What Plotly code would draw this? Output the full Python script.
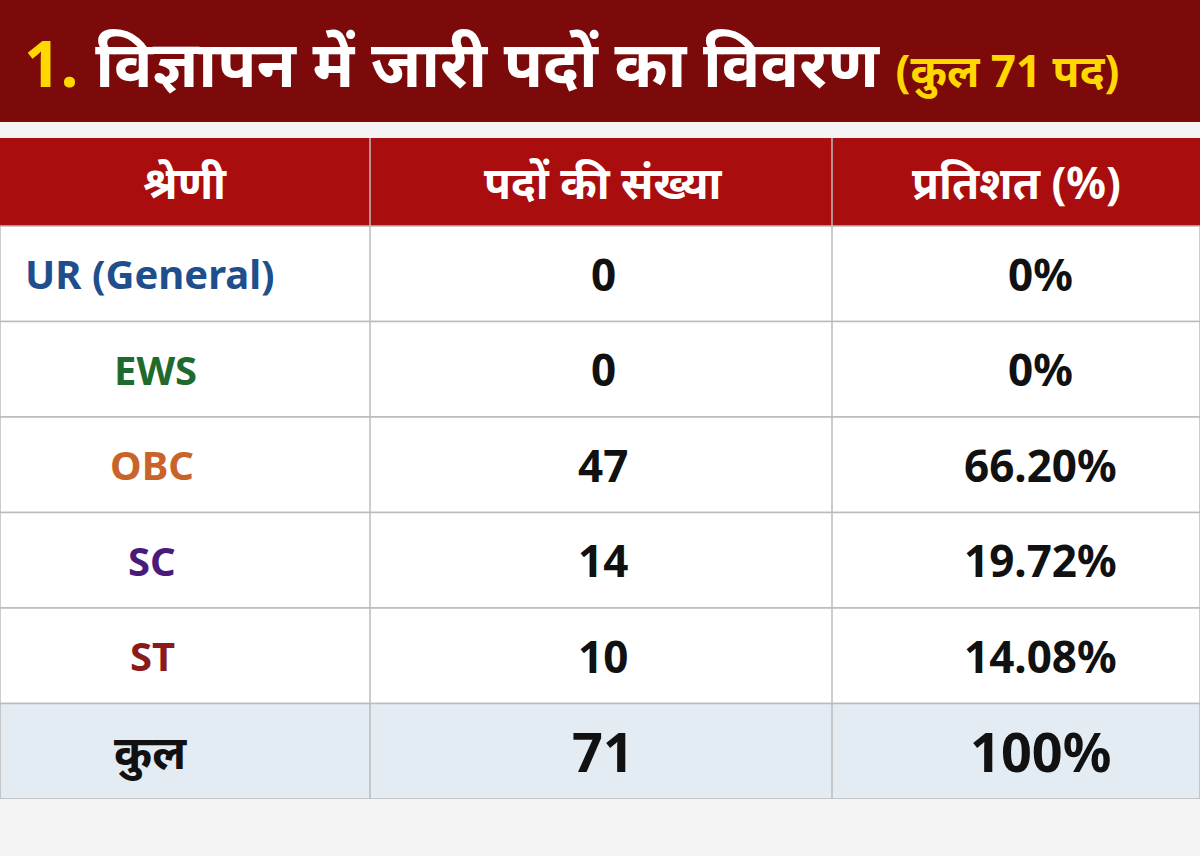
import plotly.graph_objects as go

categories = ["UR (General)", "EWS", "OBC", "SC", "ST"]
cat_colors = ["#1f4e8c", "#1f6b2e", "#c8642a", "#4a1a7a", "#8b1a1a"]
posts = [0, 0, 47, 14, 10]
percent = ["0%", "0%", "66.20%", "19.72%", "14.08%"]
total_label, total_posts, total_pct = "कुल", 71, "100%"
headers = ["श्रेणी", "पदों की संख्या", "प्रतिशत (%)"]

W, H = 1200, 856
FONT = "Noto Sans, Noto Sans Devanagari, Lato, sans-serif"
colx = [0, 370, 832, 1200]
centers = [185, 603, 1016]
cat_center = [150, 155, 152, 152, 152]
row_top = 226
row_h = 95.5

fig = go.Figure()
fig.add_trace(go.Scatter(x=[0, W], y=[0, H], mode="markers", marker=dict(opacity=0), hoverinfo="skip"))
shapes = []
shapes.append(dict(type="rect", x0=0, x1=W, y0=0, y1=122, fillcolor="#7d0a0a", line_width=0, layer="below"))
shapes.append(dict(type="rect", x0=0, x1=W, y0=122, y1=138, fillcolor="#f4f4f4", line_width=0, layer="below"))
shapes.append(dict(type="rect", x0=0, x1=W, y0=138, y1=row_top, fillcolor="#a90d0d", line_width=0, layer="below"))
n = len(categories)
for i in range(n + 1):
    y0 = row_top + i * row_h
    fill = "#e3ebf3" if i == n else "white"
    shapes.append(dict(type="rect", x0=0, x1=W, y0=y0, y1=y0 + row_h, fillcolor=fill,
                       line=dict(color="#bbbbbb", width=1.5), layer="below"))
bottom = row_top + (n + 1) * row_h
shapes.append(dict(type="rect", x0=0, x1=W, y0=bottom, y1=H, fillcolor="#f4f4f4", line_width=0, layer="below"))
for cx in colx[1:3]:
    shapes.append(dict(type="line", x0=cx, x1=cx, y0=138, y1=bottom, line=dict(color="#bbbbbb", width=1.5)))
fig.update_layout(shapes=shapes)

ann = []
ann.append(dict(x=22, y=62, xanchor="left", text="<b><span style='color:#ffd800'>1.</span> विज्ञापन में जारी पदों का विवरण <span style='color:#ffd800;font-size:44px'>(कुल 71 पद)</span></b>",
                font=dict(size=64, color="white", family=FONT), showarrow=False))
for c, h in zip(centers, headers):
    ann.append(dict(x=c, y=182, text="<b>" + h + "</b>", font=dict(size=44, color="white", family=FONT), showarrow=False))
for i in range(n):
    yc = row_top + (i + 0.5) * row_h
    ann.append(dict(x=cat_center[i], y=yc, text="<b>" + categories[i] + "</b>",
                    font=dict(size=40, color=cat_colors[i], family=FONT), showarrow=False))
    ann.append(dict(x=centers[1], y=yc, text="<b>" + str(posts[i]) + "</b>", font=dict(size=44, color="#111", family=FONT), showarrow=False))
    ann.append(dict(x=1040, y=yc, text="<b>" + percent[i] + "</b>", font=dict(size=44, color="#111", family=FONT), showarrow=False))
yc = row_top + (n + 0.5) * row_h
ann.append(dict(x=150, y=yc, text="<b>" + total_label + "</b>", font=dict(size=46, color="#111", family=FONT), showarrow=False))
ann.append(dict(x=centers[1], y=yc, text="<b>" + str(total_posts) + "</b>", font=dict(size=54, color="#111", family=FONT), showarrow=False))
ann.append(dict(x=1040, y=yc, text="<b>" + total_pct + "</b>", font=dict(size=54, color="#111", family=FONT), showarrow=False))

fig.update_layout(annotations=ann, width=W, height=H, margin=dict(l=0, r=0, t=0, b=0),
                  paper_bgcolor="white", plot_bgcolor="white", showlegend=False,
                  xaxis=dict(range=[0, W], visible=False, fixedrange=True),
                  yaxis=dict(range=[H, 0], visible=False, fixedrange=True))
fig.write_html("out.html", config={"displayModeBar": False},
               post_script="document.body.style.margin='0';document.body.style.overflow='hidden';")
